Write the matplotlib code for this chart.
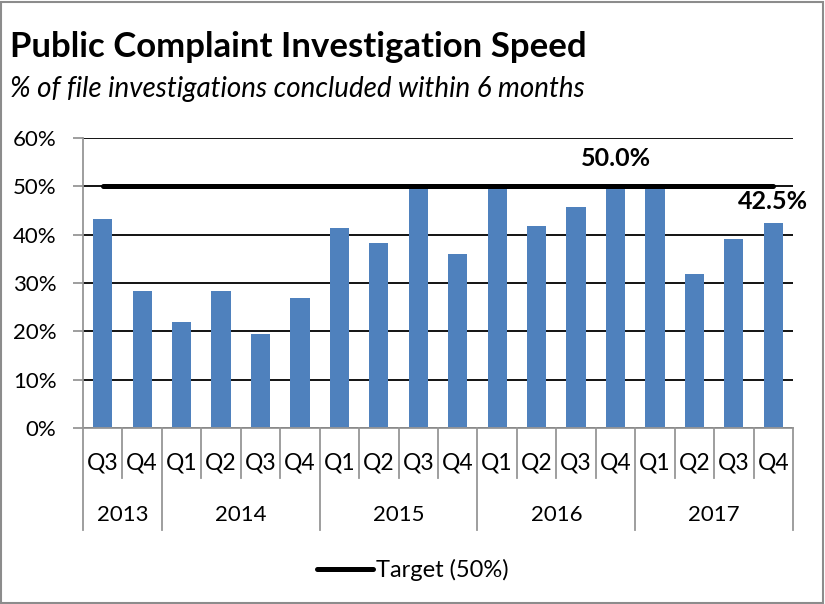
# coding:utf-8
"""
Public Complaint Investigation Speed - bar chart with target line
"""

import matplotlib
matplotlib.use("Agg")
import matplotlib.pyplot as plt
import matplotlib.ticker as ticker
from matplotlib.lines import Line2D
from matplotlib.patches import Rectangle

# data
years = ["2013", "2014", "2015", "2016", "2017"]
year_quarters = [["Q3", "Q4"],
                 ["Q1", "Q2", "Q3", "Q4"],
                 ["Q1", "Q2", "Q3", "Q4"],
                 ["Q1", "Q2", "Q3", "Q4"],
                 ["Q1", "Q2", "Q3", "Q4"]]
speed = [0.433, 0.284, 0.219, 0.284, 0.194, 0.270,
         0.413, 0.383, 0.500, 0.361,
         0.500, 0.417, 0.458, 0.500,
         0.500, 0.319, 0.391, 0.425]
target = [0.50] * 18
target_label_idx = 13

FONT = "Lato"
plt.rcParams['font.family'] = [FONT, 'DejaVu Sans']

W, H = 825, 604
fig = plt.figure(figsize=(W / 100, H / 100), dpi=100)
# outer frame
fig.patches.append(Rectangle((0.001, 0.002), 0.997, 0.995, transform=fig.transFigure,
                             fill=False, edgecolor="#8c8c8c", linewidth=1.5))

ax_left, ax_right, ax_top, ax_bottom = 83, 793, 138, 428
ax = fig.add_axes([ax_left / W, 1 - ax_bottom / H, (ax_right - ax_left) / W,
                   (ax_bottom - ax_top) / H])

x = list(range(len(speed)))
ax.bar(x, speed, width=0.49, color="#4F81BD", zorder=2)
ax.plot(x, target, color="black", linewidth=3.6, solid_capstyle="round", zorder=3,
        label="Target (50%)")

ax.set_xlim(-0.5, len(speed) - 0.5)
ax.set_ylim(0, 0.6)
ax.yaxis.set_major_locator(ticker.MultipleLocator(0.1))
ax.yaxis.set_major_formatter(ticker.FuncFormatter(lambda v, p: "%d%%" % round(v * 100)))
ax.grid(axis="y", color="black", linewidth=1.3, zorder=1)
ax.set_axisbelow(True)
for s in ["top", "right"]:
    ax.spines[s].set_visible(False)
for s in ["left", "bottom"]:
    ax.spines[s].set_color("#969696")
    ax.spines[s].set_linewidth(1.3)
ax.tick_params(axis="y", length=7, color="#969696", width=1.3, labelsize=16, pad=12)
ax.set_xticks([])

# data labels
ax.annotate("%.1f%%" % (target[target_label_idx] * 100), (target_label_idx, target[target_label_idx]),
            xytext=(0, 20), textcoords="offset points", ha="center", va="center",
            fontsize=18, fontweight="bold")
ax.annotate("%.1f%%" % (speed[-1] * 100), (len(speed) - 1, speed[-1]),
            xytext=(0, 15), textcoords="offset points", ha="center", va="center",
            fontsize=18, fontweight="bold", annotation_clip=False)

# two level category axis
axh = ax_bottom - ax_top
trans = ax.get_xaxis_transform()
q_y = -(463 - ax_bottom) / axh
y_y = -(515 - ax_bottom) / axh
q_sep = -(478 - ax_bottom) / axh
y_sep = -(530 - ax_bottom) / axh
pos = 0
for yr, qs in zip(years, year_quarters):
    start = pos
    for q in qs:
        ax.text(pos, q_y, q, transform=trans, ha="center", va="center", fontsize=16.5)
        if pos != start:
            ax.add_line(Line2D([pos - 0.5, pos - 0.5], [0, q_sep], transform=trans,
                               color="#969696", linewidth=1.3, clip_on=False))
        pos += 1
    ax.text((start + pos - 1) / 2, y_y, yr, transform=trans, ha="center", va="center",
            fontsize=16)
    ax.add_line(Line2D([start - 0.5, start - 0.5], [0, y_sep], transform=trans,
                       color="#969696", linewidth=1.3, clip_on=False))
ax.add_line(Line2D([pos - 0.5, pos - 0.5], [0, y_sep], transform=trans,
                   color="#969696", linewidth=1.3, clip_on=False))

# titles
fig.text(10 / W, 1 - 47 / H, "Public Complaint Investigation Speed", fontsize=25,
         fontweight="bold", va="center", ha="left")
fig.text(10 / W, 1 - 89 / H, "% of file investigations concluded within 6 months", fontsize=20,
         style="italic", va="center", ha="left")

fig.legend(loc="center", bbox_to_anchor=(0.5, 1 - 570 / H), frameon=False, fontsize=17,
           handlelength=2.4, handletextpad=0.1)

plt.savefig("out.png", dpi=100)
